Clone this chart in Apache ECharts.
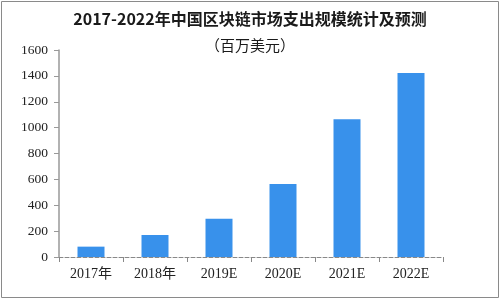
<!DOCTYPE html>
<html><head><meta charset="utf-8">
<script src="https://cdn.jsdelivr.net/npm/echarts@6/dist/echarts.min.js"></script>
<style>html,body{margin:0;padding:0;background:#fff}#c{width:500px;height:300px}</style>
</head><body><div id="c"></div>
<script>
const titleText = '2017-2022年中国区块链市场支出规模统计及预测';
const subText = '（百万美元）';
const categories = ['2017年','2018年','2019E','2020E','2021E','2022E'];
const values = [80, 170, 295, 565, 1065, 1422];
const yTicks = [0,200,400,600,800,1000,1200,1400,1600];

const chart = echarts.init(document.getElementById('c'), null, {renderer:'canvas'});
chart.setOption({
  animation:false,
  backgroundColor:'#fff',
  title:[
    {text:titleText,left:'center',top:6,textStyle:{fontFamily:'Noto Sans CJK SC',fontSize:16,fontWeight:'bold',color:'#1a1a1a'}},
    {text:subText,left:'center',top:33,textStyle:{fontFamily:'Noto Sans CJK SC',fontSize:15,fontWeight:'normal',color:'#1a1a1a'}}
  ],
  graphic:[{type:'rect',shape:{x:1.5,y:1.5,width:497,height:296},style:{fill:'none',stroke:'#8a8a8a',lineWidth:1},silent:true}],
  grid:{left:59,right:57,top:50,bottom:43},
  xAxis:{type:'category',data:categories,
    axisLine:{lineStyle:{color:'#888',type:'dashed',width:1}},
    axisTick:{show:true,length:5,lineStyle:{color:'#888'}},
    axisLabel:{margin:10,fontFamily:'Liberation Serif, Noto Sans CJK SC',fontSize:14,color:'#222'}},
  yAxis:{type:'value',min:yTicks[0],max:yTicks[yTicks.length-1],interval:200,
    splitLine:{show:false},
    axisLine:{show:true,lineStyle:{color:'#999',width:1.5}},
    axisTick:{show:true,length:5,lineStyle:{color:'#999'}},
    axisLabel:{margin:11,fontFamily:'Liberation Serif',fontSize:13.5,color:'#222',formatter:v=>String(v)}},
  series:[{type:'bar',data:values,barWidth:27,itemStyle:{color:'#3891eb'}}]
});
</script></body></html>
